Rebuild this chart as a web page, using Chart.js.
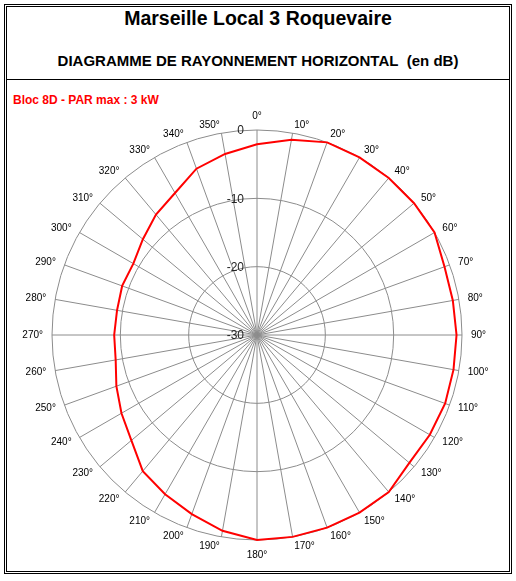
<!DOCTYPE html>
<html>
<head>
<meta charset="utf-8">
<script src="https://cdn.jsdelivr.net/npm/chart.js@4.4.0/dist/chart.umd.min.js"></script>
<style>
  html, body { margin: 0; padding: 0; background: #fff; }
  #page { position: relative; width: 516px; height: 581px; font-family: "Liberation Sans", Arial, sans-serif; }
  #frame { position: absolute; left: 4px; top: 4px; width: 508px; height: 570px; box-sizing: border-box; border: 3px double #000; }
  #rule { position: absolute; left: 7px; top: 79px; width: 502px; height: 1px; background: #000; }
  .txt { position: absolute; white-space: nowrap; }
  #title { left: 0; width: 516px; top: 7px; text-align: center; font-weight: bold; font-size: 19.5px; }
  #subtitle { left: 0; width: 516px; top: 52px; text-align: center; font-weight: bold; font-size: 15px; }
  #serie { left: 13px; top: 93px; color: #ff0000; font-weight: bold; font-size: 12px; }
  #wrap { position: absolute; left: 22px; top: 100px; width: 470px; height: 470px; }
</style>
</head>
<body>
<div id="page">
  <div id="frame"></div>
  <div id="rule"></div>
  <div class="txt" id="title">Marseille Local 3 Roquevaire</div>
  <div class="txt" id="subtitle">DIAGRAMME DE RAYONNEMENT HORIZONTAL&nbsp;&nbsp;(en dB)</div>
  <div class="txt" id="serie">Bloc 8D - PAR max : 3 kW</div>
  <div id="wrap"><canvas id="diagramme"></canvas></div>
</div>
<script>
// azimuts (degrés)
const azimuts = [0, 10, 20, 30, 40, 50, 60, 70, 80, 90, 100, 110, 120, 130, 140, 150, 160, 170,
                 180, 190, 200, 210, 220, 230, 240, 250, 260, 270, 280, 290, 300, 310, 320, 330, 340, 350];
// atténuation relevée (dB)
const attenuation = [-2.1, -1.0, 0, 0, 0, 0, 0, -0.8, -0.9, -0.8, -0.8, -0.7, -0.8, -0.9, 0, 0, 0, 0,
                     0, -0.9, -2.1, -3.1, -4.0, -6.0, -7.1, -8.1, -9.0, -9.1, -9.2, -9.0, -9.1, -8.2, -7.0, -6.0, -4.1, -3.1];
const graduations = [-30, -20, -10, 0];

const labels = azimuts.map(a => a + '°');

// libellés au bout des rayons (façon Excel) + graduations dB à gauche de l'axe 0°
const etiquettes = {
    id: 'etiquettes',
    afterDraw(chart) {
        const r = chart.scales.r;
        const ctx = chart.ctx;
        ctx.save();
        ctx.fillStyle = '#000';
        ctx.font = '10px "Liberation Sans", Arial, sans-serif';
        chart.data.labels.forEach((lab, i) => {
            const a = azimuts[i];
            const p = r.getPointPosition(i, r.drawingArea + 9);
            if (a === 0) {
                ctx.textAlign = 'center';
                ctx.textBaseline = 'alphabetic';
                ctx.fillText(lab, p.x, p.y - 2);
            } else if (a === 180) {
                ctx.textAlign = 'center';
                ctx.textBaseline = 'top';
                ctx.fillText(lab, p.x, p.y + 1);
            } else {
                ctx.textAlign = a < 180 ? 'left' : 'right';
                ctx.textBaseline = 'middle';
                ctx.fillText(lab, p.x, p.y + 0.5);
            }
        });
        ctx.font = '12px "Liberation Sans", Arial, sans-serif';
        ctx.fillStyle = '#222';
        ctx.textAlign = 'right';
        ctx.textBaseline = 'middle';
        graduations.forEach(v => {
            const d = r.getDistanceFromCenterForValue(v);
            ctx.fillText(String(v), r.xCenter - 13, r.yCenter - d + 1);
        });
        ctx.restore();
    }
};

new Chart(document.getElementById('diagramme'), {
    type: 'radar',
    data: {
        labels: labels,
        datasets: [{
            data: attenuation,
            borderColor: '#ff0000',
            borderWidth: 2,
            pointRadius: 0,
            fill: false,
            tension: 0
        }]
    },
    options: {
        responsive: true,
        maintainAspectRatio: false,
        animation: false,
        layout: { padding: 30 },
        plugins: { legend: { display: false }, tooltip: { enabled: false } },
        scales: {
            r: {
                min: -30,
                max: 0,
                ticks: { display: false, stepSize: 10 },
                grid: { circular: true, color: '#8c8c8c', lineWidth: 1 },
                angleLines: { color: '#8c8c8c', lineWidth: 1 },
                pointLabels: { display: false }
            }
        }
    },
    plugins: [etiquettes]
});
</script>
</body>
</html>
